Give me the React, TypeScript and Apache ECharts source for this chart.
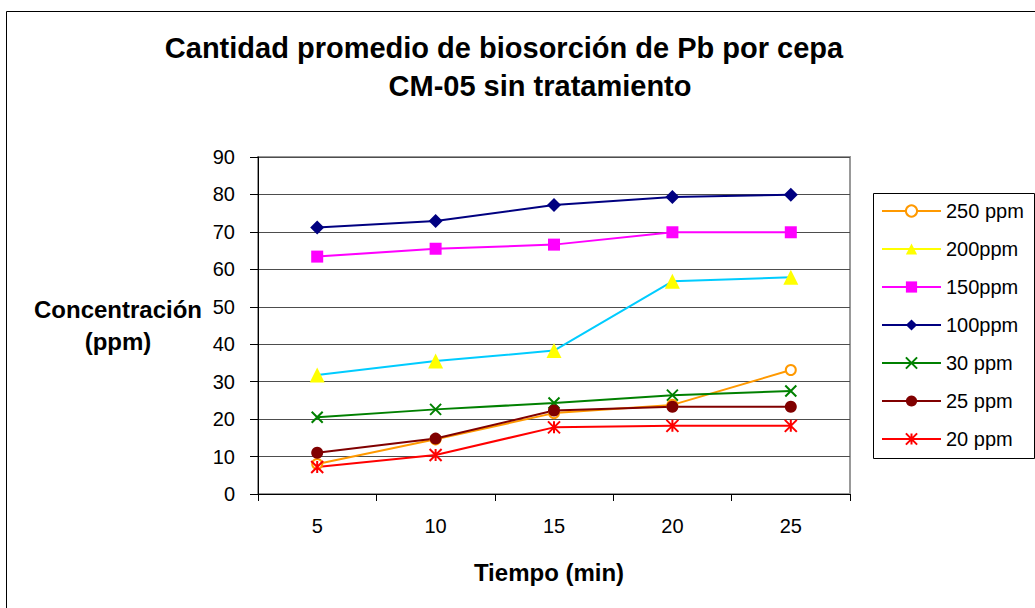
import React, { useEffect, useRef } from "react";
import * as echarts from "echarts";

const times = ["5", "10", "15", "20", "25"];
const s250 = [8.0, 14.6, 21.6, 23.8, 33.1];
const s200 = [31.8, 35.5, 38.3, 56.8, 57.9];
const s150 = [63.4, 65.5, 66.6, 69.9, 69.9];
const s100 = [71.2, 72.9, 77.2, 79.3, 79.9];
const s30 = [20.5, 22.6, 24.3, 26.4, 27.5];
const s25 = [11.0, 14.8, 22.3, 23.3, 23.3];
const s20 = [7.2, 10.4, 17.8, 18.2, 18.2];

const titleLine1 = "Cantidad promedio de biosorción de Pb por cepa";
const titleLine2 = "CM-05 sin tratamiento";
const xName = "Tiempo (min)";
const yName1 = "Concentración";
const yName2 = "(ppm)";

const FONT = "'Liberation Sans', Arial, sans-serif";
const X_PATH = "path://M0,0L10,10M10,0L0,10";
const STAR_PATH = "path://M5,0L5,10M0,0L10,10M10,0L0,10";

export default function App() {
  const ref = useRef<HTMLDivElement>(null);
  useEffect(() => {
    if (!ref.current) return;
    const chart = echarts.init(ref.current, null, { renderer: "svg" });
    const mk = (
      name: string,
      data: number[],
      lineColor: string,
      symbol: string,
      size: number,
      itemStyle: any
    ) => ({
      name,
      type: "line",
      data,
      symbol,
      symbolSize: size,
      showAllSymbol: true,
      lineStyle: { color: lineColor, width: 2 },
      itemStyle,
      emphasis: { disabled: true },
    });
    const series = [
      mk("250 ppm", s250, "#FF9900", "emptyCircle", 10, { color: "#FF9900", borderColor: "#FF9900", borderWidth: 2 }),
      mk("200ppm", s200, "#00CCFF", "triangle", 15, { color: "#FFFF00" }),
      mk("150ppm", s150, "#FF00FF", "rect", 12, { color: "#FF00FF" }),
      mk("100ppm", s100, "#000080", "diamond", 14, { color: "#000080" }),
      mk("30 ppm", s30, "#008000", X_PATH, 11, { color: "#008000", borderColor: "#008000", borderWidth: 2 }),
      mk("25 ppm", s25, "#800000", "circle", 12, { color: "#800000" }),
      mk("20 ppm", s20, "#FF0000", STAR_PATH, 12, { color: "#FF0000", borderColor: "#FF0000", borderWidth: 2 }),
    ];
    const legendData = [
      { name: "250 ppm" },
      { name: "200ppm", lineStyle: { color: "#FFFF00" } },
      { name: "150ppm" },
      { name: "100ppm" },
      { name: "30 ppm" },
      { name: "25 ppm" },
      { name: "20 ppm" },
    ];
    chart.setOption({
      animation: false,
      backgroundColor: "#ffffff",
      textStyle: { fontFamily: FONT },
      grid: {
        left: 258,
        top: 157,
        width: 592,
        height: 337,
        show: true,
        borderColor: "#999999",
        borderWidth: 2,
        backgroundColor: "transparent",
      },
      legend: {
        orient: "vertical",
        left: 881,
        top: 201,
        itemWidth: 59,
        itemHeight: 14,
        itemGap: 18,
        padding: 0,
        data: legendData,
        textStyle: { fontSize: 20, color: "#000", fontFamily: FONT, lineHeight: 20 },
        selectedMode: false,
      },
      xAxis: {
        type: "category",
        data: times,
        boundaryGap: true,
        axisLine: { lineStyle: { color: "#000", width: 1 } },
        axisTick: { show: true, length: 7, lineStyle: { color: "#000" } },
        axisLabel: { fontSize: 20, color: "#000", margin: 22, fontFamily: FONT },
        splitLine: { show: false },
      },
      yAxis: {
        type: "value",
        min: 0,
        max: 90,
        interval: 10,
        axisLine: { show: true, lineStyle: { color: "#000", width: 1 } },
        axisTick: { show: true, length: 8, lineStyle: { color: "#000" } },
        axisLabel: { fontSize: 20, color: "#000", margin: 23, fontFamily: FONT },
        splitLine: { show: true, lineStyle: { color: "#4d4d4d", width: 1 } },
      },
      graphic: [
        {
          type: "rect",
          shape: { x: 6.5, y: 11.5, width: 1040, height: 620 },
          style: { fill: "none", stroke: "#000", lineWidth: 1 },
          silent: true,
        },
        {
          type: "rect",
          shape: { x: 873.5, y: 193.5, width: 161, height: 265 },
          style: { fill: "none", stroke: "#000", lineWidth: 1 },
          silent: true,
        },
        {
          type: "text",
          x: 504,
          y: 48,
          style: {
            text: titleLine1,
            font: `bold 29px ${FONT}`,
            fill: "#000",
            align: "center",
            verticalAlign: "middle",
          },
        },
        {
          type: "text",
          x: 540,
          y: 86,
          style: {
            text: titleLine2,
            font: `bold 29px ${FONT}`,
            fill: "#000",
            align: "center",
            verticalAlign: "middle",
          },
        },
        {
          type: "text",
          x: 549,
          y: 572,
          style: {
            text: xName,
            font: `bold 24px ${FONT}`,
            fill: "#000",
            align: "center",
            verticalAlign: "middle",
          },
        },
        {
          type: "text",
          x: 118,
          y: 309,
          style: {
            text: yName1,
            font: `bold 24px ${FONT}`,
            fill: "#000",
            align: "center",
            verticalAlign: "middle",
          },
        },
        {
          type: "text",
          x: 118,
          y: 341,
          style: {
            text: yName2,
            font: `bold 24px ${FONT}`,
            fill: "#000",
            align: "center",
            verticalAlign: "middle",
          },
        },
      ],
      series,
    });
    return () => chart.dispose();
  }, []);
  return (
    <div
      ref={ref}
      style={{ position: "fixed", left: 0, top: 0, width: 1035, height: 608 }}
    />
  );
}
